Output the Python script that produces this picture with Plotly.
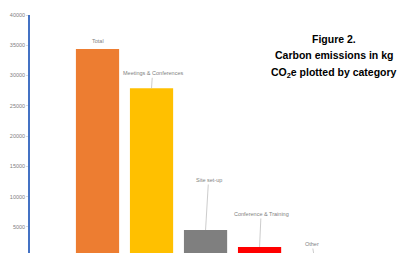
import plotly.graph_objects as go

categories = ["Total", "Meetings & Conferences", "Site set-up", "Conference & Training", "Other"]
values = [34400, 27900, 4500, 1700, 200]
colors = ["#ED7D31", "#FFC000", "#7F7F7F", "#FF0000", "#5B9BD5"]
tick_vals = [5000, 10000, 15000, 20000, 25000, 30000, 35000, 40000]
title_lines = ["Figure 2.", "Carbon emissions in kg", "CO<sub>2</sub>e plotted by category"]

Y_MIN, Y_MAX = 700, 40000

fig = go.Figure()
fig.add_trace(go.Bar(x=categories, y=values, marker=dict(color=colors, line=dict(width=0)),
                     showlegend=False, hoverinfo="skip"))

label_font = dict(family="Liberation Sans, Arial, sans-serif", size=5.5, color="#7F7F7F")
# label offsets (ax, ay) in pixels; None = no leader line
offsets = [None, (1, -15), (3, -50), (1.5, -33), (-1.5, -9)]
for cat, v, off in zip(categories, values, offsets):
    anchor_y = max(v, Y_MIN)
    if off is None:
        fig.add_annotation(x=cat, y=anchor_y, text=cat, showarrow=False, yanchor="bottom",
                           yshift=3, font=label_font)
    else:
        fig.add_annotation(x=cat, y=anchor_y, text=cat, showarrow=True, arrowhead=0,
                           arrowwidth=0.8, arrowcolor="#BFBFBF", ax=off[0], ay=off[1],
                           standoff=0, startstandoff=0, font=label_font)

title_y_px = [38.5, 55.5, 72.5]
for line, py in zip(title_lines, title_y_px):
    fig.add_annotation(xref="paper", yref="paper", x=(334 - 30) / 370, y=(253 - py) / 238,
                       text=line, showarrow=False, xanchor="center", yanchor="middle",
                       font=dict(family="Liberation Sans, Arial, sans-serif", size=10.5,
                                 color="#000000", weight="bold"))

fig.update_layout(
    width=400, height=253,
    margin=dict(l=30, r=0, t=15, b=0, autoexpand=False),
    paper_bgcolor="white", plot_bgcolor="white",
    bargap=0.2,
    xaxis=dict(range=[-1.25, 5.6], showticklabels=False, showline=False, showgrid=False,
               zeroline=False, ticks="", automargin=False),
    yaxis=dict(range=[Y_MIN, Y_MAX], tickvals=tick_vals, tickformat="d", showgrid=False,
               zeroline=False, showline=True, linecolor="#4472C4", linewidth=1.5,
               ticks="outside", ticklen=2, tickcolor="#D9D9D9", automargin=False,
               tickfont=dict(family="Liberation Sans, Arial, sans-serif", size=5.5, color="#7F7F7F")),
)

fig.write_html("out.html", config={"displayModeBar": False},
               post_script="document.body.style.margin='0';document.body.style.overflow='hidden';")
